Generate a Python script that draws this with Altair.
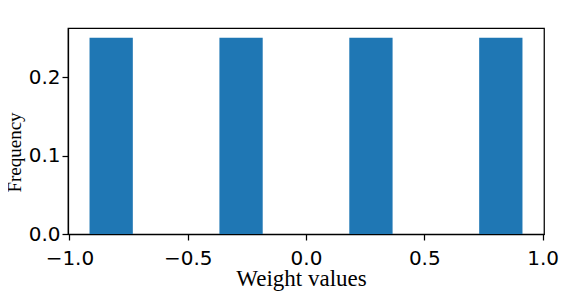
import altair as alt
import pandas as pd

bin_start = [-0.915, -0.366, 0.183, 0.732]
bin_end = [-0.732, -0.183, 0.366, 0.915]
frequency = [0.25, 0.25, 0.25, 0.25]
x_ticks = [-1.0, -0.5, 0.0, 0.5, 1.0]
y_ticks = [0.0, 0.1, 0.2]

df = pd.DataFrame({"start": bin_start, "end": bin_end, "freq": frequency})

W, H = 476, 206

chart = alt.Chart(df).mark_rect(color="#1f77b4").encode(
    x=alt.X("start:Q",
            scale=alt.Scale(domain=[-1.006, 1.006], nice=False, zero=False),
            axis=alt.Axis(values=x_ticks, format=".1f", title="Weight values",
                          grid=False, domainColor="black", domainWidth=1.25,
                          tickColor="black", tickWidth=1.25, tickSize=6,
                          labelFont="DejaVu Sans", labelFontSize=20, labelColor="black",
                          labelPadding=8, labelFlush=False,
                          titleFont="Liberation Serif", titleFontSize=23,
                          titleFontWeight="normal", titleColor="black",
                          titleX=233, titleY=51, titleAlign="center",
                          titleBaseline="alphabetic")),
    x2="end:Q",
    y=alt.Y("freq:Q",
            scale=alt.Scale(domain=[0, 0.2625], nice=False),
            axis=alt.Axis(values=y_ticks, format=".1f", title="Frequency",
                          grid=False, domainColor="black", domainWidth=1.25,
                          tickColor="black", tickWidth=1.25, tickSize=6,
                          labelFont="DejaVu Sans", labelFontSize=20, labelColor="black",
                          labelPadding=2, labelFlush=False, labelBaseline="middle",
                          titleFont="Liberation Serif", titleFontSize=19,
                          titleFontWeight="normal", titleColor="black",
                          titleAngle=-90, titleX=-48, titleY=124,
                          titleAlign="center", titleBaseline="alphabetic")),
    y2=alt.datum(0),
).properties(
    width=W, height=H,
    autosize=alt.AutoSizeParams(type="none"),
    padding={"left": 60, "top": 20, "right": 20, "bottom": 62},
).configure_view(
    stroke="black", strokeWidth=1.25
)

chart.save("out.html", embed_options={"renderer": "svg", "actions": False})
